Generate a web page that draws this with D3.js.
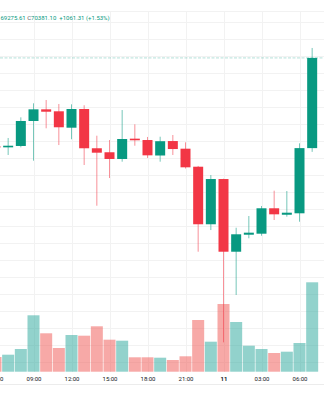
<!DOCTYPE html>
<html>
<head>
<meta charset="utf-8">
<script src="https://cdn.jsdelivr.net/npm/d3@7"></script>
<style>
  html, body { margin: 0; padding: 0; background: #ffffff; overflow: hidden; }
  svg { display: block; font-family: Roboto, "Noto Sans", sans-serif; }
</style>
</head>
<body>
<svg id="chart" width="324" height="400"></svg>
<script>
// Hourly BTC candles (UTC)
const times = [
  "2024-03-10T06:00Z", "2024-03-10T07:00Z", "2024-03-10T08:00Z", "2024-03-10T09:00Z",
  "2024-03-10T10:00Z", "2024-03-10T11:00Z", "2024-03-10T12:00Z", "2024-03-10T13:00Z",
  "2024-03-10T14:00Z", "2024-03-10T15:00Z", "2024-03-10T16:00Z", "2024-03-10T17:00Z",
  "2024-03-10T18:00Z", "2024-03-10T19:00Z", "2024-03-10T20:00Z", "2024-03-10T21:00Z",
  "2024-03-10T22:00Z", "2024-03-10T23:00Z", "2024-03-11T00:00Z", "2024-03-11T01:00Z",
  "2024-03-11T02:00Z", "2024-03-11T03:00Z", "2024-03-11T04:00Z", "2024-03-11T05:00Z",
  "2024-03-11T06:00Z", "2024-03-11T07:00Z"
];
const openPrices  = [69341, 69329, 69345, 69639, 69776, 69753, 69560, 69780, 69318, 69271, 69192, 69431, 69415,
                     69233, 69403, 69313, 69101, 68424, 68956, 68101, 68301, 68313, 68612, 68536, 68553, 69319.79];
const highPrices  = [69380, 69439, 69682, 69847, 69886, 69839, 69835, 69824, 69466, 69415, 69768, 69600, 69451,
                     69454, 69474, 69388, 69110, 69003, 68960, 68383, 68521, 68639, 68819, 68815, 69376, 70498];
const lowPrices   = [69300, 69239, 69329, 69172, 69553, 69356, 69424, 69121, 68642, 68968, 69160, 69348, 69204,
                     69160, 69239, 69080, 68101, 68356, 67035, 67592, 68259, 68289, 68474, 68513, 68454, 69275.61];
const closePrices = [69329, 69348, 69639, 69776, 69748, 69565, 69780, 69318, 69266, 69192, 69427, 69412, 69235,
                     69401, 69309, 69094, 68424, 68956, 68101, 68306, 68325, 68612, 68541, 68560, 69319.79, 70381.10];
const volumes     = [294, 340, 454, 1128, 768, 474, 734, 720, 908, 640, 620, 288, 288,
                     280, 234, 308, 1034, 600, 1354, 994, 520, 454, 374, 400, 574, 1788];

// Time axis ticks every three hours; midnight shows the day of month
const tickTimes = [
  "2024-03-10T06:00Z", "2024-03-10T09:00Z", "2024-03-10T12:00Z", "2024-03-10T15:00Z",
  "2024-03-10T18:00Z", "2024-03-10T21:00Z", "2024-03-11T00:00Z", "2024-03-11T03:00Z",
  "2024-03-11T06:00Z"
];
// Horizontal grid levels
const priceGrid = [70800, 70600, 70400, 70200, 70000, 69800, 69600, 69400, 69200, 69000, 68800, 68600,
                   68400, 68200, 68000, 67800, 67600, 67400, 67200, 67000, 66800];

const UP = "#089981", DOWN = "#f23645";
const VOL_UP = "rgba(38,166,154,0.5)", VOL_DOWN = "rgba(239,83,80,0.5)";

const W = 324, H = 400;
const paneTop = 11.7, paneBottom = 371.7;

const candles = times.map((t, i) => ({
  t: new Date(t), o: openPrices[i], h: highPrices[i], l: lowPrices[i], c: closePrices[i], v: volumes[i]
}));

const svg = d3.select("#chart");

const x = d3.scaleUtc()
  .domain([new Date(times[0]), new Date(times[times.length - 1])])
  .range([-4.5, 312.17]);
const y = d3.scaleLinear().domain([70800, 67600]).range([22.3, 294.3]);
const yVol = d3.scaleLinear().domain([0, d3.max(volumes)]).range([paneBottom, 282.3]);

// Grid
const grid = svg.append("g").attr("stroke", "#f2f2f2").attr("stroke-width", 1).attr("shape-rendering", "crispEdges");
grid.selectAll("line.h").data(priceGrid.filter(p => y(p) > paneTop && y(p) < paneBottom)).join("line")
  .attr("class", "h").attr("x1", 0).attr("x2", W).attr("y1", d => y(d)).attr("y2", d => y(d));
grid.selectAll("line.v").data(tickTimes).join("line")
  .attr("class", "v").attr("x1", d => x(new Date(d)) + 0.8).attr("x2", d => x(new Date(d)) + 0.8)
  .attr("y1", paneTop).attr("y2", paneBottom);
svg.append("line").attr("x1", 0).attr("x2", W).attr("y1", paneTop).attr("y2", paneTop)
  .attr("stroke", "#f2f2f2").attr("shape-rendering", "crispEdges");
svg.append("line").attr("x1", 0).attr("x2", W).attr("y1", 384).attr("y2", 384)
  .attr("stroke", "#ececec").attr("shape-rendering", "crispEdges");

// Volume histogram
const volW = 12;
svg.append("g").selectAll("rect").data(candles).join("rect")
  .attr("x", d => x(d.t) - volW / 2)
  .attr("width", volW)
  .attr("y", d => yVol(d.v))
  .attr("height", d => paneBottom - yVol(d.v))
  .attr("fill", d => d.c >= d.o ? VOL_UP : VOL_DOWN);

// Last price line
const last = candles[candles.length - 1];
svg.append("line").attr("x1", 0).attr("x2", W).attr("y1", y(last.c)).attr("y2", y(last.c))
  .attr("stroke", UP).attr("stroke-opacity", 0.3).attr("stroke-width", 1).attr("stroke-dasharray", "3,1.5");

// Candles
const bodyW = 10;
const cg = svg.append("g").selectAll("g").data(candles).join("g");
cg.append("line")
  .attr("x1", d => x(d.t)).attr("x2", d => x(d.t))
  .attr("y1", d => y(d.h)).attr("y2", d => y(d.l))
  .attr("stroke", d => d.c >= d.o ? UP : DOWN)
  .attr("stroke-opacity", 0.55)
  .attr("stroke-width", 1);
cg.append("rect")
  .attr("x", d => x(d.t) - bodyW / 2)
  .attr("width", bodyW)
  .attr("y", d => y(Math.max(d.o, d.c)))
  .attr("height", d => Math.max(1.2, Math.abs(y(d.o) - y(d.c))))
  .attr("fill", d => d.c >= d.o ? UP : DOWN);

// Time axis
const fmt = d => d.getUTCHours() === 0 ? d3.utcFormat("%-d")(d) : d3.utcFormat("%H:%M")(d);
const axis = d3.axisBottom(x).tickValues(tickTimes.map(t => new Date(t))).tickSize(0).tickPadding(4.7).tickFormat(fmt);
const ax = svg.append("g").attr("transform", `translate(0,${paneBottom})`).call(axis);
ax.select(".domain").remove();
ax.selectAll("text")
  .attr("font-family", "Roboto, sans-serif")
  .attr("font-size", 6)
  .attr("fill", "#131722")
  .attr("font-weight", d => d.getUTCHours() === 0 ? 700 : 400);

// Legend: low, close, change
const prevClose = candles[candles.length - 2].c;
const change = last.c - prevClose;
const pct = change / prevClose * 100;
const legendParts = [
  { text: d3.format(".2f")(last.l), color: UP },
  { text: " C", color: "#5d606b" },
  { text: d3.format(".2f")(last.c), color: UP },
  { text: "  " + d3.format("+.2f")(change) + " (" + d3.format("+.2f")(pct) + "%)", color: UP }
];
const legend = svg.append("text")
  .attr("y", 20.3)
  .attr("font-family", "Roboto, sans-serif")
  .attr("font-size", 6)
  .attr("xml:space", "preserve");
legend.selectAll("tspan").data(legendParts).join("tspan")
  .attr("fill", d => d.color).text(d => d.text);
const lead = (legendParts[0].text + " ").length;
const offset = legend.node().getSubStringLength(0, lead);
legend.attr("x", Math.max(0.5, 25 - offset));
</script>
</body>
</html>
